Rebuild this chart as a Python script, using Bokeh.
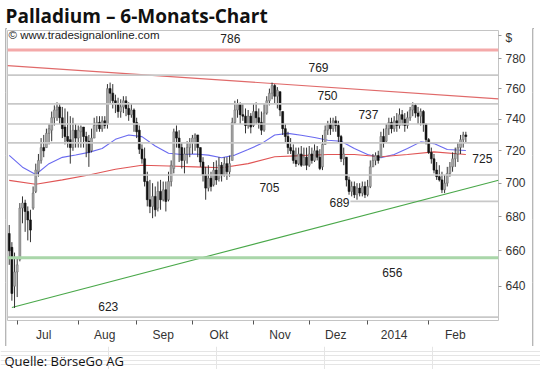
import pandas as pd
from bokeh.plotting import figure
from bokeh.layouts import column, row
from bokeh.models import (ColumnDataSource, Range1d, FixedTicker, Label, Span, Title,
                          BasicTickFormatter)
from bokeh.core.properties import value
from bokeh.embed import file_html
from bokeh.resources import INLINE

# ---------------- data ----------------
first_session = "2013-06-26"

open_ = [670, 662, 640, 648, 655, 685, 688, 683, 678, 685,
         695, 707, 714, 722, 722, 731, 733, 741, 746, 748,
         741, 735, 729, 727, 722, 733, 728, 732, 735, 729,
         726, 720, 728, 736, 738, 734, 739, 737, 760, 757,
         752, 750, 745, 748, 752, 747, 743, 746, 738, 733,
         721, 715, 701, 690, 686, 692, 685, 695, 690, 696,
         690, 701, 709, 732, 728, 722, 714, 718, 722, 725,
         728, 730, 722, 713, 705, 697, 703, 699, 708, 703,
         711, 705, 712, 707, 714, 738, 746, 750, 743, 742,
         736, 742, 736, 745, 741, 738, 733, 744, 752, 757,
         762, 755, 758, 745, 734, 729, 722, 720, 714, 712,
         718, 711, 716, 711, 718, 714, 720, 716, 710, 724,
         733, 737, 734, 739, 736, 729, 715, 716, 702, 695,
         698, 693, 697, 694, 698, 693, 698, 710, 714, 717,
         716, 729, 726, 734, 738, 734, 739, 736, 743, 740,
         736, 741, 746, 749, 744, 742, 745, 737, 727, 719,
         715, 708, 704, 702, 696, 700, 706, 710, 715, 718,
         722, 727, 730]

high = [675, 665, 659, 656, 688, 692, 690, 686, 684, 698,
        712, 718, 728, 730, 734, 737, 745, 749, 751, 750,
        748, 747, 745, 742, 741, 737, 736, 736, 734, 732,
        730, 734, 741, 742, 742, 742, 742, 763, 764, 763,
        756, 754, 753, 755, 755, 751, 750, 747, 741, 736,
        724, 722, 707, 702, 700, 698, 701, 702, 701, 701,
        707, 714, 734, 736, 733, 725, 722, 726, 728, 730,
        731, 728, 722, 716, 710, 711, 707, 713, 714, 716,
        713, 716, 716, 717, 741, 752, 753, 751, 750, 747,
        746, 744, 750, 751, 747, 745, 750, 755, 760, 764,
        763, 761, 758, 745, 737, 732, 728, 724, 722, 722,
        723, 722, 722, 723, 722, 724, 723, 721, 730, 736,
        739, 741, 741, 742, 739, 730, 722, 716, 704, 701,
        701, 700, 700, 701, 701, 702, 714, 718, 719, 720,
        732, 734, 737, 741, 741, 742, 744, 747, 746, 744,
        745, 748, 751, 750, 748, 747, 746, 737, 728, 722,
        718, 713, 711, 707, 705, 710, 713, 719, 722, 725,
        730, 732, 732]

low = [652, 632, 628, 634, 654, 676, 671, 666, 665, 684,
       694, 704, 712, 716, 722, 724, 726, 736, 739, 737,
       728, 724, 722, 712, 720, 722, 722, 722, 722, 716,
       710, 719, 728, 732, 732, 732, 734, 734, 750, 747,
       744, 741, 741, 744, 742, 739, 741, 732, 728, 718,
       712, 698, 686, 682, 679, 680, 683, 684, 689, 683,
       689, 698, 706, 722, 713, 709, 706, 712, 716, 718,
       720, 716, 710, 701, 690, 695, 695, 698, 699, 701,
       701, 704, 702, 704, 714, 737, 741, 737, 739, 731,
       734, 731, 735, 737, 734, 730, 732, 743, 749, 753,
       750, 747, 742, 730, 725, 718, 718, 712, 710, 711,
       710, 711, 708, 710, 712, 713, 714, 708, 708, 724,
       730, 730, 732, 732, 725, 713, 711, 698, 693, 692,
       691, 690, 692, 692, 691, 692, 697, 710, 711, 712,
       716, 722, 725, 730, 731, 732, 732, 734, 736, 732,
       734, 739, 742, 741, 737, 736, 732, 724, 718, 712,
       706, 702, 701, 694, 694, 698, 704, 707, 710, 713,
       718, 722, 725]

close = [660, 636, 648, 652, 685, 688, 683, 678, 672, 694,
         708, 714, 722, 720, 731, 734, 741, 746, 748, 741,
         734, 729, 726, 722, 733, 728, 733, 735, 729, 726,
         719, 728, 736, 738, 734, 739, 736, 760, 757, 752,
         750, 745, 748, 752, 747, 743, 746, 738, 732, 721,
         715, 701, 690, 686, 692, 684, 695, 690, 696, 689,
         701, 711, 732, 728, 722, 714, 718, 722, 725, 728,
         730, 722, 713, 705, 697, 703, 698, 708, 702, 711,
         705, 712, 707, 712, 738, 746, 750, 743, 742, 736,
         742, 735, 745, 741, 738, 733, 744, 752, 757, 762,
         755, 759, 746, 734, 729, 722, 720, 714, 712, 718,
         711, 716, 711, 718, 714, 720, 716, 709, 724, 733,
         737, 734, 739, 736, 729, 715, 718, 702, 695, 698,
         693, 697, 694, 698, 693, 698, 710, 714, 717, 714,
         729, 725, 734, 738, 734, 739, 736, 743, 740, 736,
         741, 746, 749, 744, 742, 745, 737, 727, 719, 715,
         708, 704, 702, 696, 700, 706, 710, 715, 718, 722,
         727, 730, 729]

# moving averages (fast = blue, every 5 sessions; slow = red, every 10)
ma_fast_step = 5
ma_fast = [717.1, 709.8, 705.3, 712.0, 715.9, 717.4, 719.0, 721.4, 727.2, 730.0,
           728.9, 723.0, 718.5, 717.7, 718.0, 717.3, 715.7, 717.3, 720.8, 724.5,
           730.0, 731.0, 729.8, 728.4, 726.6, 726.0, 721.4, 717.7, 715.7, 717.7,
           721.4, 725.6, 724.5, 720.8, 720.2]
ma_slow_step = 10
ma_slow = [701.7, 699.3, 702.0, 705.0, 708.5, 711.0, 710.5, 710.0, 709.5, 712.0,
           716.3, 717.0, 717.7, 717.7, 716.3, 717.7, 719.3, 717.7]

# trend lines: value at their first and last point
resistance_line = [775.4, 753.3]
support_line = [628.3, 701.8]

month_labels = ["Jul", "Aug", "Sep", "Okt", "Nov", "Dez", "2014", "Feb"]
price_ticks = [640, 660, 680, 700, 720, 740, 760, 780]
unit_tick = 796
level_values = [786, 769, 750, 737, 725, 705, 689, 656, 623]

title_text = "Palladium \u2013 6-Monats-Chart"
source_text = "Quelle: B\u00f6rseGo AG"
copyright_text = "\u00a9 www.tradesignalonline.com"
unit_text = "$"

# ---------------- derived ----------------
n = len(close)
dates = pd.bdate_range(first_session, periods=n)
idx = list(range(n))
month_starts = [i for i in range(1, n) if dates[i].month != dates[i - 1].month]
label_pos = [m + 10 for m in month_starts]

up = [c >= o for o, c in zip(open_, close)]
src = ColumnDataSource(dict(
    x=idx, h=high, l=low,
    top=[max(o, c) for o, c in zip(open_, close)],
    bottom=[min(o, c) for o, c in zip(open_, close)],
    fill=["#a9a9a9" if u else "#111111" for u in up],
    line=["#707070" if u else "#111111" for u in up],
))

# ---------------- layout ----------------
W_PAGE = 540
H_TITLE, H_SRC = 28, 23
BOX_LEFT, BOX_LINE = 5, 2
W_IN, H_IN = 525, 314
B_LEFT, B_RIGHT, B_TOP, B_BOTTOM = 0, 34, 0, 17
FW = W_IN - B_LEFT - B_RIGHT
FH = H_IN - B_TOP - B_BOTTOM
X_LO, X_HI = -0.65, 184.3
Y_LO, Y_HI = 621.2, 799.4
FONT = "Liberation Sans"
BOX_COLOR = "#111111"


def bare(width, height, fill):
    f = figure(width=width, height=height, x_range=Range1d(0, 1), y_range=Range1d(0, 1),
               x_axis_location=None, y_axis_location=None, toolbar_location=None,
               output_backend="svg", title=None, min_border=0)
    f.outline_line_color = None
    f.background_fill_color = fill
    f.border_fill_color = fill
    return f


title_fig = bare(W_PAGE, H_TITLE, "white")
title_fig.add_layout(Title(text=title_text, align="left", offset=5, standoff=0,
                           text_font="Open Sans", text_font_style="bold",
                           text_font_size="19px", text_color="#111111"), "above")

source_fig = bare(W_PAGE, H_SRC, "white")
source_fig.add_layout(Label(x=4, y=9, x_units="screen", y_units="screen",
                            text=source_text, text_font="Open Sans", text_font_size="13px",
                            text_color="#111111", text_baseline="alphabetic"))

p = figure(width=W_IN, height=H_IN, x_range=Range1d(X_LO, X_HI), y_range=Range1d(Y_LO, Y_HI),
           y_axis_type="log", y_axis_location="right", output_backend="svg",
           toolbar_location=None, title=None,
           min_border_left=B_LEFT, min_border_right=B_RIGHT,
           min_border_top=B_TOP, min_border_bottom=B_BOTTOM)
p.background_fill_color = "white"
p.border_fill_color = "white"
p.outline_line_color = "#c4c4c4"
p.outline_line_width = 1
p.xgrid.visible = False
p.ygrid.visible = False

xa = p.xaxis[0]
xa.ticker = FixedTicker(ticks=label_pos, minor_ticks=month_starts)
xa.major_label_overrides = {lp: lab for lp, lab in zip(label_pos, month_labels)}
xa.major_tick_out = 0
xa.major_tick_in = 0
xa.minor_tick_out = 4
xa.minor_tick_in = 0
xa.minor_tick_line_color = "#555555"
xa.axis_line_color = None
xa.major_label_standoff = 3
xa.major_label_text_font = FONT
xa.major_label_text_font_size = "12px"
xa.major_label_text_color = "#333333"

ya = p.yaxis[0]
ya.ticker = FixedTicker(ticks=price_ticks + [unit_tick])
ya.formatter = BasicTickFormatter(use_scientific=False)
ya.major_label_overrides = {unit_tick: unit_text}
ya.major_tick_out = 3
ya.major_tick_in = 0
ya.major_tick_line_color = "#999999"
ya.minor_tick_out = 0
ya.minor_tick_in = 0
ya.axis_line_color = None
ya.major_label_standoff = 4
ya.major_label_text_font = FONT
ya.major_label_text_font_size = "12px"
ya.major_label_text_color = "#333333"

# level lines
level_style = {786: ("#f4a9a9", 3), 656: ("#a9d6a9", 3)}
level_start = {689: 128.5}
for lv in level_values:
    color, width = level_style.get(lv, ("#c8c8c8", 1.6))
    if lv in level_start:
        p.segment(x0=[level_start[lv]], y0=[lv], x1=[X_HI], y1=[lv],
                  line_color=color, line_width=width)
    else:
        p.add_layout(Span(location=lv, dimension="width", line_color=color, line_width=width))

# trend lines
p.line(x=[X_LO, X_HI], y=resistance_line, line_color="#e06a6a", line_width=1.2)
p.line(x=[1, X_HI], y=support_line, line_color="#4aa84a", line_width=1.1)

# moving averages
fast_x = [i * ma_fast_step for i in range(len(ma_fast) - 1)] + [n - 1]
slow_x = [i * ma_slow_step for i in range(len(ma_slow) - 1)] + [n - 1]
p.line(x=fast_x, y=ma_fast, line_color="#6a6af0", line_width=1.1)
p.line(x=slow_x, y=ma_slow, line_color="#e05555", line_width=1.1)

# candles
p.segment(x0="x", y0="l", x1="x", y1="h", source=src, line_color="#333333", line_width=1)
p.vbar(x="x", width=0.72, top="top", bottom="bottom", source=src,
       fill_color="fill", line_color="line", line_width=0.6)

# level labels
label_x = {786: 83.3, 769: 116.5, 750: 119.9, 737: 135.3, 725: 178.2,
           705: 98.0, 689: 124.4, 656: 144.3, 623: 37.3}
label_dy = {786: -11, 769: -8, 750: -8, 737: -9, 725: 16, 705: 13, 689: 1, 656: 15, 623: -11}
p.text(x=[label_x[v] for v in level_values], y=level_values,
       text=[str(v) for v in level_values],
       y_offset=[label_dy[v] for v in level_values],
       text_font=value(FONT), text_font_size="12px", text_color="#222222",
       text_align="center", text_baseline="middle")

p.add_layout(Label(x=1, y=FH - 11, x_units="screen", y_units="screen", text=copyright_text,
                   text_font=FONT, text_font_size="11.5px",
                   text_color="#222222", text_baseline="alphabetic"))

# black box around chart and axes, built from thin black strips
box_h = H_IN + 2 * BOX_LINE
inner = column(bare(W_IN, BOX_LINE, BOX_COLOR), p, bare(W_IN, BOX_LINE, BOX_COLOR), spacing=0)
boxed = row(bare(BOX_LINE, box_h, BOX_COLOR), inner, bare(BOX_LINE, box_h, BOX_COLOR),
            spacing=0, margin=(0, 0, 0, BOX_LEFT))

layout = column(title_fig, boxed, source_fig, spacing=0)
open("out.html", "w").write(file_html(layout, INLINE))
